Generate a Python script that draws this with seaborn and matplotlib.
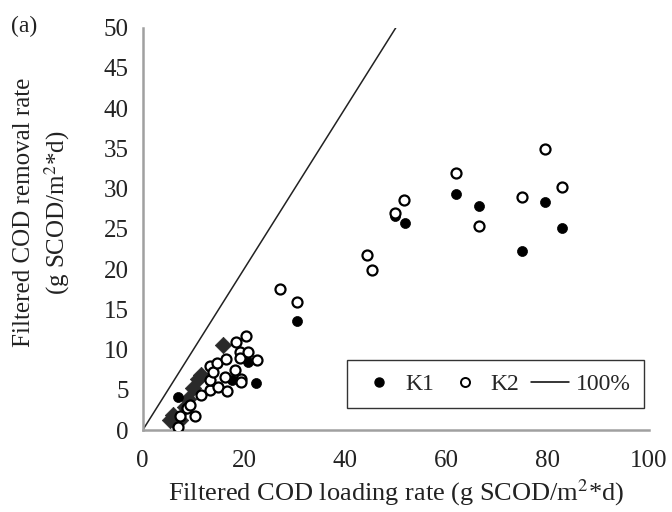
import pandas as pd
import seaborn as sns
import matplotlib
matplotlib.use("Agg")
import matplotlib.pyplot as plt
from matplotlib.lines import Line2D

# K1 (filled circles)
k1_load = [7.0, 17.7, 20.8, 22.4, 30.5, 49.8, 51.8, 61.9, 66.5, 74.9, 79.5, 82.8]
k1_removal = [4.1, 6.2, 8.4, 5.9, 13.5, 26.6, 25.7, 29.3, 27.8, 22.2, 28.3, 25.1]

# K2 (open circles)
k2_load = [7.0, 7.4, 8.7, 9.3, 10.3, 11.6, 13.3, 13.3, 13.3, 13.9, 14.6, 14.9,
           16.2, 16.4, 16.6, 18.2, 18.5, 19.2, 19.2, 19.5, 19.5, 20.4, 20.8, 22.5,
           27.1, 30.5, 44.3, 45.2, 49.8, 51.7, 61.9, 66.5, 74.9, 79.5, 82.8]
k2_removal = [0.4, 1.7, 2.7, 3.1, 1.7, 4.3, 5.0, 6.2, 7.9, 7.2, 8.3, 5.4,
              6.6, 8.8, 4.9, 7.5, 11.0, 9.7, 8.9, 6.4, 6.0, 11.7, 9.7, 8.7,
              17.5, 15.9, 21.7, 19.9, 27.0, 28.6, 32.0, 25.4, 28.9, 34.9, 30.2]

# dark diamonds in the low-load cluster
dia_load = [5.4, 6.0, 6.4, 7.4, 8.3, 9.0, 10.0, 11.0, 11.6, 15.9]
dia_removal = [1.2, 1.9, 1.0, 1.2, 2.9, 3.9, 5.2, 6.3, 6.8, 10.6]

# 100% removal line
line_x = [0, 50]
line_y = [0, 50]

sns.set_style("white")
plt.rcParams['font.family'] = ['Liberation Serif', 'DejaVu Serif']
plt.rcParams['mathtext.fontset'] = 'stix'

fig = plt.figure(figsize=(6.72, 5.12), dpi=100)
ax = fig.add_axes([0.2124, 0.160, 0.7534, 0.786])

sns.lineplot(x=line_x, y=line_y, color='#222222', linewidth=1.1, ax=ax)
sns.scatterplot(x=dia_load, y=dia_removal, marker='D', s=70, color='#2a2a2a',
                edgecolor='#2a2a2a', linewidth=0.5, ax=ax, zorder=3)
sns.scatterplot(x=k1_load, y=k1_removal, marker='o', s=52, color='black',
                edgecolor='black', linewidth=0.5, ax=ax, zorder=4)
sns.scatterplot(x=k2_load, y=k2_removal, marker='o', s=52, color='white',
                edgecolor='black', linewidth=1.6, ax=ax, zorder=5)

ax.set_xlim(0, 100)
ax.set_ylim(0, 50)
ax.set_xticks(range(0, 101, 20))
ax.set_yticks(range(0, 51, 5))

for side in ['top', 'right']:
    ax.spines[side].set_visible(False)
for side in ['left', 'bottom']:
    ax.spines[side].set_color('#a0a0a0')
    ax.spines[side].set_linewidth(1.8)

ax.tick_params(axis='both', direction='out', length=6, width=1.3,
               color='#555555', labelsize=18, labelcolor='#222222', pad=4)
ax.tick_params(axis='x', pad=8)

ax.set_xlabel('Filtered COD loading rate (g SCOD/m$^{2}$*d)', fontsize=19, color='#222222', labelpad=4)
ax.set_ylabel('Filtered COD removal rate\n(g SCOD/m$^{2}$*d)', fontsize=18, color='#222222',
              linespacing=1.3)
ax.yaxis.set_label_coords(-0.14, 0.54)

fig.text(0.016, 0.949, '(a)', fontsize=17, color='#222222', va='center')

handles = [
    Line2D([], [], marker='o', linestyle='none', markersize=6.5, color='black'),
    Line2D([], [], marker='o', linestyle='none', markersize=6.5, markerfacecolor='white',
           markeredgecolor='black', markeredgewidth=1.4),
    Line2D([], [], color='black', linewidth=1.1),
]
leg = ax.legend(handles, ['K1', 'K2', '100%'], ncol=3, loc='lower right',
                bbox_to_anchor=(0.99, 0.055), borderaxespad=0, fontsize=17, frameon=True,
                fancybox=False, edgecolor='black', handletextpad=0.3, columnspacing=0.5,
                handlelength=1.6, borderpad=0.55)
leg.get_frame().set_linewidth(1.0)

fig.savefig('out.png', dpi=100)
